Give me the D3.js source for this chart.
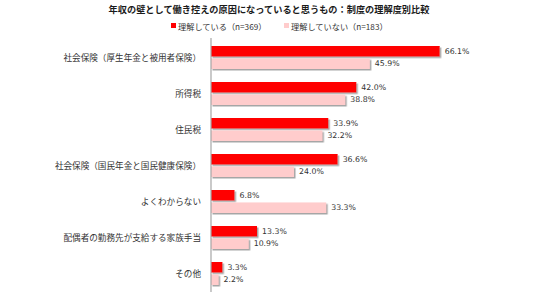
<!DOCTYPE html>
<html>
<head>
<meta charset="utf-8">
<script src="https://cdn.jsdelivr.net/npm/d3@7"></script>
<style>
  body { margin: 0; background: #fff; }
  text { font-family: "Noto Sans CJK JP", "Noto Sans", sans-serif; }
</style>
</head>
<body>
<div id="chart"></div>
<script>
const categories = [
  '社会保険（厚生年金と被用者保険）',
  '所得税',
  '住民税',
  '社会保険（国民年金と国民健康保険）',
  'よくわからない',
  '配偶者の勤務先が支給する家族手当',
  'その他'
]
const understand = [66.1, 42.0, 33.9, 36.6, 6.8, 13.3, 3.3]
const notUnderstand = [45.9, 38.8, 32.2, 24.0, 33.3, 10.9, 2.2]
const seriesNames = ['理解している（n=369）', '理解していない（n=183）']
const colors = ['#ff0000', '#ffcccc']

const width = 536, height = 297

const svg = d3.select('#chart').append('svg').attr('width', width).attr('height', height)

const defs = svg.append('defs')
const f = defs.append('filter').attr('id', 'shadow').attr('x', '-10%').attr('y', '-30%').attr('width', '130%').attr('height', '180%')
f.append('feDropShadow')
  .attr('dx', 1.5).attr('dy', 1.5).attr('stdDeviation', 0.7)
  .attr('flood-color', '#808080').attr('flood-opacity', 0.7)

// title
svg.append('text')
  .attr('x', 269).attr('y', 13)
  .attr('text-anchor', 'middle')
  .attr('font-size', 9.2).attr('font-weight', 'bold').attr('fill', '#1a1a1a')
  .text('年収の壁として働き控えの原因になっていると思うもの：制度の理解度別比較')

// legend
const legendX = [171, 284]
seriesNames.forEach((name, i) => {
  const g = svg.append('g').attr('transform', `translate(${legendX[i]},27)`)
  g.append('rect').attr('x', 0).attr('y', -4).attr('width', 5).attr('height', 5).attr('fill', colors[i])
  g.append('text').attr('x', 7).attr('y', 0).attr('dy', '0.33em')
    .attr('font-size', 8.2).attr('fill', '#333').text(name)
})

const x = d3.scaleLinear().domain([0, 100]).range([211, 557])
const y0 = d3.scaleBand().domain(categories).range([38, 290])
const y1 = d3.scaleBand().domain([0, 1]).range([8, 31]).paddingInner(0.15)

const data = categories.map((c, i) => ({ cat: c, vals: [understand[i], notUnderstand[i]] }))

const groups = svg.append('g').selectAll('g')
  .data(data)
  .enter()
  .append('g')
  .attr('transform', d => `translate(0,${y0(d.cat)})`)

groups.selectAll('rect')
  .data(d => d.vals)
  .enter()
  .append('rect')
  .attr('x', x(0))
  .attr('y', (v, j) => y1(j))
  .attr('width', v => x(v) - x(0))
  .attr('height', y1.bandwidth())
  .attr('fill', (v, j) => colors[j])
  .attr('filter', 'url(#shadow)')

groups.selectAll('text.val')
  .data(d => d.vals)
  .enter()
  .append('text')
  .attr('class', 'val')
  .attr('x', v => x(v) + 5)
  .attr('y', (v, j) => y1(j) + y1.bandwidth() / 2)
  .attr('dy', '0.35em')
  .style('font-family', '"DejaVu Sans", sans-serif')
  .attr('font-size', 7.8).attr('fill', '#333')
  .text(v => v.toFixed(1) + '%')

// category labels
svg.append('g').selectAll('text')
  .data(categories)
  .enter()
  .append('text')
  .attr('x', 201)
  .attr('y', d => y0(d) + 19.5)
  .attr('dy', '0.35em')
  .attr('text-anchor', 'end')
  .attr('font-size', 8.6).attr('fill', '#333')
  .text(d => d)

// axis line
svg.append('line')
  .attr('x1', x(0)).attr('x2', x(0))
  .attr('y1', y0.range()[0]).attr('y2', y0.range()[1] + 2)
  .attr('stroke', '#a6a6a6').attr('stroke-width', 1.2)
</script>
</body>
</html>
